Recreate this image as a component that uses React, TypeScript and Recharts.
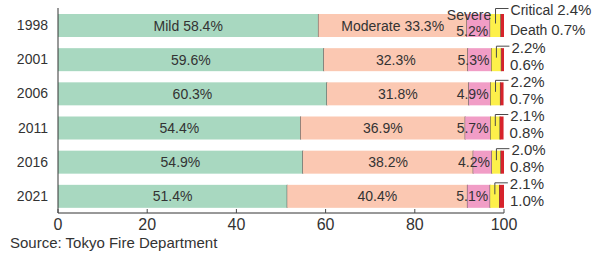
// Share of ambulance patients by degree of severity, 100% stacked horizontal bars
import { BarChart, Bar, XAxis, YAxis, LabelList } from "recharts";

const years = ["1998", "2001", "2006", "2011", "2016", "2021"];
const mild = [58.4, 59.6, 60.3, 54.4, 54.9, 51.4];
const moderate = [33.3, 32.3, 31.8, 36.9, 38.2, 40.4];
const severe = [5.2, 5.3, 4.9, 5.7, 4.2, 5.1];
const critical = [2.4, 2.2, 2.2, 2.1, 2.0, 2.1];
const death = [0.7, 0.6, 0.7, 0.8, 0.8, 1.0];
const xTicks = [0, 20, 40, 60, 80, 100];

const data = years.map((year, i) => ({
  year,
  mild: mild[i],
  moderate: moderate[i],
  severe: severe[i],
  critical: critical[i],
  death: death[i],
}));

const FONT = "'Liberation Sans', Arial, Helvetica, sans-serif";
const NARROW = "'Liberation Sans Narrow', 'Arial Narrow', 'Liberation Sans', sans-serif";
const INK = "#333";
const SEP = "#4a4a4a";

const pct = (v: number) => `${v.toFixed(1)}%`;

// сегмент с тёмной чертой по правому краю
const seg = (fill: string, sep: boolean) => (p: any) => {
  const { x, y, width, height } = p;
  return (
    <g>
      <rect x={x} y={y} width={width} height={height} fill={fill} />
      {sep && <line x1={x + width} x2={x + width} y1={y} y2={y + height} stroke={SEP} strokeWidth={1} />}
    </g>
  );
};

const centerLabel = (prefix: string) => (p: any) => {
  const { x, y, width, height, value, index } = p;
  return (
    <text x={x + width / 2} y={y + height / 2} dy="0.36em" textAnchor="middle" fontSize={14} fill={INK} fontFamily={FONT}>
      {index === 0 ? prefix : ""}
      {pct(Number(value))}
    </text>
  );
};

const severeLabel = (p: any) => {
  const { x, y, width, height, value, index } = p;
  const right = x + width - 2;
  if (index === 0) {
    return (
      <g fontFamily={FONT} fill={INK}>
        <text x={right + 3} y={y + 1} dy="0.36em" textAnchor="end" fontSize={14} fontFamily={NARROW}>Severe</text>
        <text x={right} y={y + 17} dy="0.36em" textAnchor="end" fontSize={14}>{pct(Number(value))}</text>
      </g>
    );
  }
  return (
    <text x={right} y={y + height / 2} dy="0.36em" textAnchor="end" fontSize={14} fill={INK} fontFamily={FONT}>
      {pct(Number(value))}
    </text>
  );
};

const criticalLabel = (p: any) => {
  const { x, y, width, height, value, index } = p;
  const cx = x + width / 2;
  const cy = y + height / 2;
  const ly = index === 0 ? cy - 17 : cy - 13.5;
  return (
    <g>
      <polyline points={`${cx},${cy - 2} ${cx},${ly} ${cx + 13},${ly}`} fill="none" stroke={SEP} strokeWidth={1} />
      <text x={cx + 15} y={ly + 1} dy="0.36em" fontSize={15} fill={INK} fontFamily={FONT}>
        {index === 0 && <tspan fontFamily={NARROW} fontSize={14}>Critical </tspan>}
        {pct(Number(value))}
      </text>
    </g>
  );
};

const deathLabel = (p: any) => {
  const { x, y, width, height, value, index } = p;
  const cy = y + height / 2;
  return (
    <text x={x + width + 6} y={cy + 4.5} dy="0.36em" fontSize={15} fill={INK} fontFamily={FONT}>
      {index === 0 && <tspan fontFamily={NARROW} fontSize={14}>Death </tspan>}
      {pct(Number(value))}
    </text>
  );
};

const XTick = (p: any) => {
  const { x, y, payload } = p;
  return (
    <g>
      <line x1={x} x2={x} y1={y - 4} y2={y} stroke={SEP} strokeWidth={1} />
      <text x={x} y={y + 17} textAnchor="middle" fontSize={16} fill={INK} fontFamily={FONT}>
        {payload.value}
      </text>
    </g>
  );
};

export default function App() {
  return (
    <div style={{ position: "absolute", left: 0, top: 0, width: 592, height: 255, background: "#fff" }}>
      <BarChart
        width={592}
        height={255}
        data={data}
        layout="vertical"
        margin={{ top: 8, right: 88, bottom: 22, left: 0 }}
        barSize={23}
      >
        <XAxis
          type="number"
          domain={[0, 100]}
          ticks={xTicks}
          allowDataOverflow
          tickLine={false}
          tickSize={0}
          tickMargin={0}
          height={20}
          axisLine={{ stroke: INK }}
          tick={<XTick />}
        />
        <YAxis
          type="category"
          dataKey="year"
          width={58}
          tickLine={false}
          tickSize={0}
          tickMargin={10}
          axisLine={{ stroke: INK }}
          tick={{ fontSize: 14, fill: INK, fontFamily: FONT }}
        />
        <Bar dataKey="mild" stackId="a" shape={seg("#a8d8c0", true)} isAnimationActive={false}>
          <LabelList dataKey="mild" content={centerLabel("Mild ")} />
        </Bar>
        <Bar dataKey="moderate" stackId="a" shape={seg("#fbc8b2", true)} isAnimationActive={false}>
          <LabelList dataKey="moderate" content={centerLabel("Moderate ")} />
        </Bar>
        <Bar dataKey="severe" stackId="a" shape={seg("#f19dc6", true)} isAnimationActive={false}>
          <LabelList dataKey="severe" content={severeLabel} />
        </Bar>
        <Bar dataKey="critical" stackId="a" shape={seg("#fdf04a", true)} isAnimationActive={false}>
          <LabelList dataKey="critical" content={criticalLabel} />
        </Bar>
        <Bar dataKey="death" stackId="a" shape={seg("#d7232b", false)} isAnimationActive={false}>
          <LabelList dataKey="death" content={deathLabel} />
        </Bar>
      </BarChart>
      <div style={{ position: "absolute", left: 10, top: 234, fontSize: 15, lineHeight: "17px", color: INK, fontFamily: FONT }}>
        Source: Tokyo Fire Department
      </div>
    </div>
  );
}
